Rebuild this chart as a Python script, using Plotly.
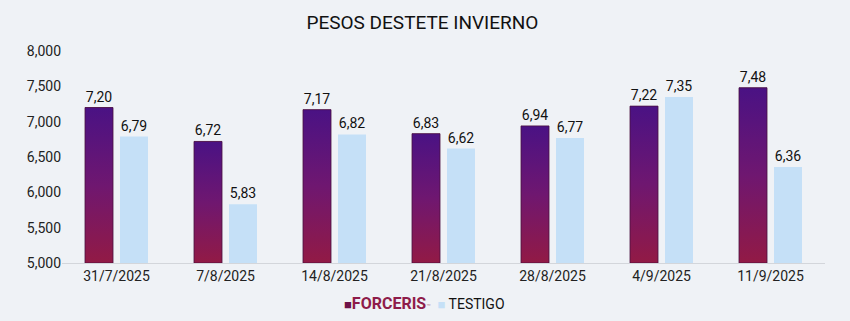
import plotly.graph_objects as go

dates = ["31/7/2025", "7/8/2025", "14/8/2025", "21/8/2025", "28/8/2025", "4/9/2025", "11/9/2025"]
forceris = [7.20, 6.72, 7.17, 6.83, 6.94, 7.22, 7.48]
testigo = [6.79, 5.83, 6.82, 6.62, 6.77, 7.35, 6.36]
series_names = ["FORCERIS", "TESTIGO"]

y_min, y_max = 5.0, 8.0
bar_w = 0.257
off_f = -0.289
off_t = 0.032

BG = "#eff2f6"
TOP = "#4a1284"
BOT = "#921a45"
F_COL = "#6a1366"
T_COL = "#c5e0f7"
idx = list(range(len(dates)))

fig = go.Figure()

fig.add_trace(go.Bar(
    x=idx, y=forceris, width=bar_w, offset=off_f,
    name=series_names[0],
    marker=dict(color=F_COL, line=dict(width=0)),
    texttemplate="%{y:.2f}", textposition="outside", cliponaxis=False,
    textfont=dict(size=14, color="#111"),
))

# gradient overlays for FORCERIS bars
for i, v in zip(idx, forceris):
    x0 = i + off_f
    x1 = x0 + bar_w
    fig.add_trace(go.Scatter(
        x=[x0, x1, x1, x0, x0], y=[y_min, y_min, v, v, y_min],
        mode="lines", fill="toself", line=dict(width=0.8, color="#4a1040"),
        fillgradient=dict(type="vertical", colorscale=[[0, BOT], [0.5, "#6f1770"], [1, TOP]],
                          start=y_min, stop=v),
        showlegend=False, hoverinfo="skip",
    ))

fig.add_trace(go.Bar(
    x=idx, y=testigo, width=bar_w, offset=off_t,
    name=series_names[1],
    marker=dict(color=T_COL, line=dict(width=0)),
    texttemplate="%{y:.2f}", textposition="outside", cliponaxis=False,
    textfont=dict(size=14, color="#111"),
))

legend_text = (
    f"<span style='color:#6e1248;font-size:13px'>■</span>"
    f"<b><span style='color:#8e1c4a;font-size:16px'>{series_names[0]}</span></b>"
    f"<span style='color:#b07a90;font-size:7px'>™</span>  "
    f"<span style='color:{T_COL};font-size:13px'>■</span> "
    f"<span style='color:#111;font-size:14px'>{series_names[1]}</span>"
)

fig.update_layout(
    width=850, height=321,
    separators=",.",
    paper_bgcolor=BG, plot_bgcolor=BG,
    font=dict(family="Roboto", color="#222", size=14),
    margin=dict(l=62, r=25, t=51, b=58, autoexpand=False),
    title=dict(text="PESOS DESTETE INVIERNO", x=0.497, xanchor="center",
               y=1 - 22 / 321, yanchor="middle",
               font=dict(size=19, color="#111", family="Roboto")),
    showlegend=False,
    annotations=[dict(text=legend_text, xref="paper", yref="paper",
                      x=(424 - 62) / 763, y=-(303 - 263) / 212,
                      xanchor="center", yanchor="middle", showarrow=False)],
    xaxis=dict(tickmode="array", tickvals=idx, ticktext=dates, range=[-0.5, 6.5],
               showgrid=False, zeroline=False, showline=True, linecolor="#d3d6db", linewidth=1,
               ticks="", tickfont=dict(size=14, color="#222")),
    yaxis=dict(range=[y_min, y_max], dtick=0.5, tick0=5, tickformat=".3f",
               showgrid=False, zeroline=False, showline=False, ticks="",
               tickfont=dict(size=14, color="#222")),
)

fig.write_html("out.html")
